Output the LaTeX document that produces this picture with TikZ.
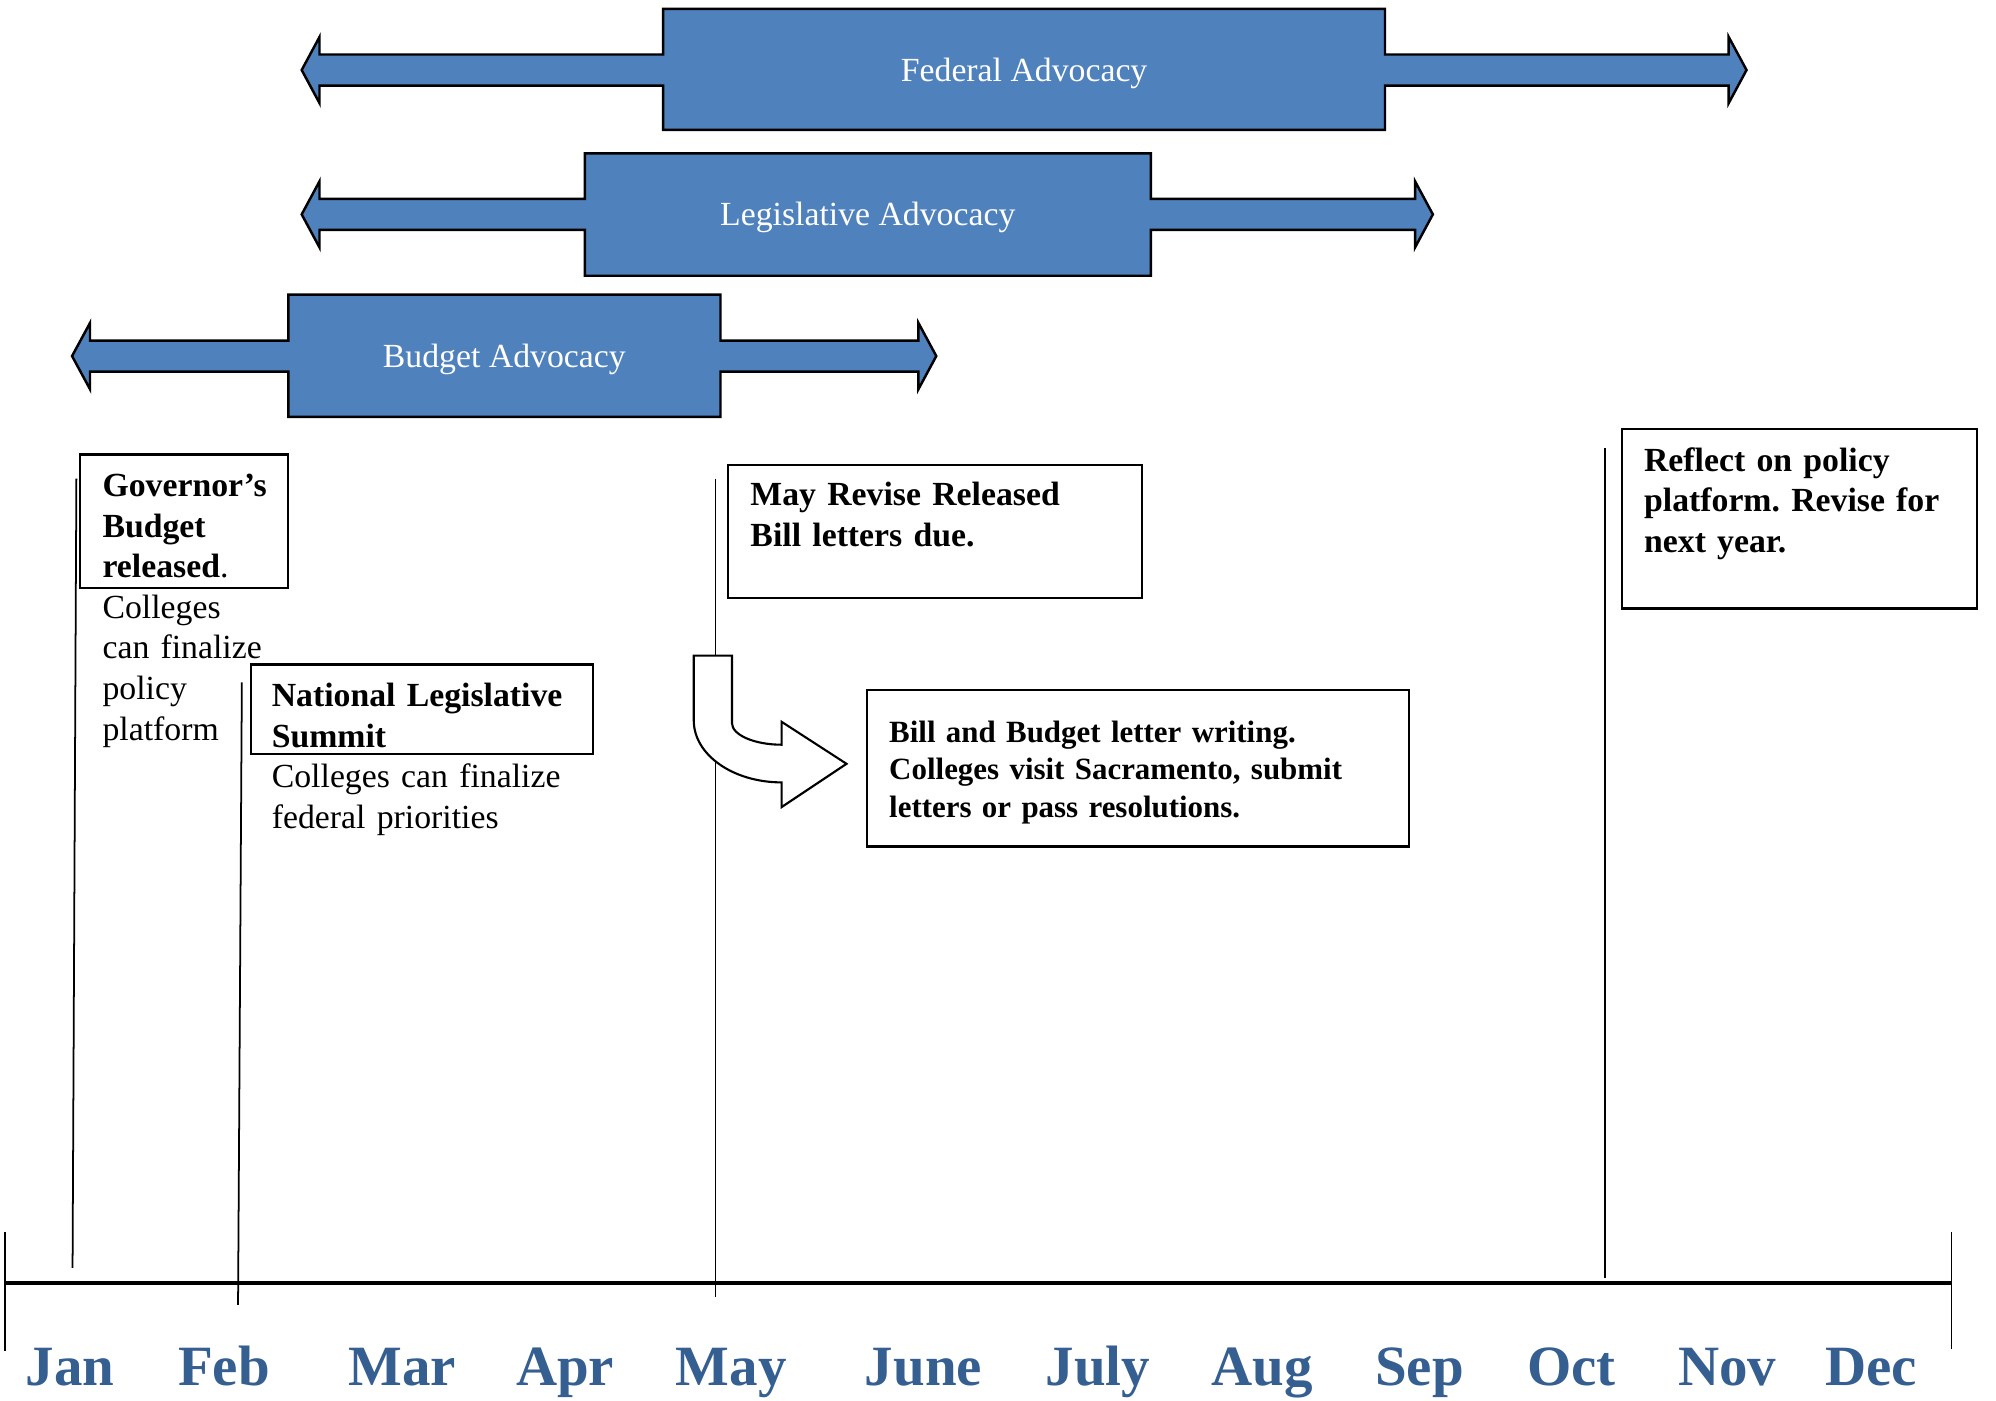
\documentclass[tikz,border=0pt]{standalone}
\usepackage{fontspec}
\setmainfont{Liberation Serif}
\usetikzlibrary{fit}
\definecolor{advblue}{HTML}{4F81BD}
\definecolor{monthblue}{HTML}{365F91}
\newcommand\advshape[9]{%
  \draw[advfill] (#1,#9) -- (#2,#9-26) -- (#2,#9-12.2) -- (#3,#9-12.2) -- (#3,#7) -- (#4,#7)
    -- (#4,#9-12.2) -- (#5,#9-12.2) -- (#5,#9-26) -- (#6,#9) -- (#5,#9+26) -- (#5,#9+12.2)
    -- (#4,#9+12.2) -- (#4,#8) -- (#3,#8) -- (#3,#9+12.2) -- (#2,#9+12.2) -- (#2,#9+26) -- cycle;}
\tikzset{
  advfill/.style={fill=advblue, draw=black, line width=0.7pt, line join=miter},
  advtext/.style={text=white, font=\fontsize{9.6}{11.6}\selectfont, inner sep=0pt},
  evbox/.style={draw=black, line width=0.6pt, inner sep=0pt},
  evtext/.style={anchor=base west, align=left, text width=#1, inner sep=0pt,
    font=\fontsize{9.6}{11.55}\selectfont\frenchspacing},
  smalltext/.style={anchor=base west, align=left, text width=#1, inner sep=0pt,
    font=\fontsize{8.8}{10.65}\selectfont\frenchspacing},
  monthlabel/.style={anchor=base, text=monthblue, inner sep=0pt,
    font=\fontsize{16.2}{19}\selectfont\bfseries},
  tline/.style={draw=black, line width=0.5pt},
  axisline/.style={draw=black, line width=1.1pt},
  bentarrow/.style={draw=black, fill=white, line width=0.6pt, line join=miter}
}
\begin{document}
\frenchspacing
\begin{tikzpicture}[x=0.01273cm, y=-0.01273cm]
\useasboundingbox (0,0) rectangle (1568,1100);

% advocacy arrows
\advshape{237}{251}{521}{1088}{1358}{1372}{7}{102}{55}
\node[advtext] (fed) at (804.5,58) {Federal Advocacy};
\advshape{237}{251}{459.5}{904}{1111.6}{1125.6}{120.5}{216.6}{168.4}
\node[advtext] (leg) at (681.7,171) {Legislative Advocacy};
\advshape{56.6}{70.7}{226.5}{566}{721.5}{735.5}{231.5}{327.4}{279.7}
\node[advtext] (bud) at (396.2,282.5) {Budget Advocacy};

% timeline axis
\coordinate (axL) at (4,1008);
\coordinate (axR) at (1533,1008);
\draw[axisline] (axL) -- (axR);
\draw[tline] (4,968) -- (4,1061);
\draw[tline] (1533,968) -- (1533,1060);

% event marker lines
\coordinate (janT) at (60,376);  \coordinate (janB) at (57,996);
\coordinate (febT) at (190,536); \coordinate (febB) at (187,1025);
\coordinate (mayT) at (562,376); \coordinate (mayB) at (562,1019);
\coordinate (octT) at (1261,352); \coordinate (octB) at (1261,1004);
\draw[tline] (janT) -- (janB);
\draw[tline] (febT) -- (febB);
\draw[tline] (mayT) -- (mayB);
\draw[tline] (octT) -- (octB);

% bent arrow
\draw[bentarrow] (545,515) -- (575,515) -- (575,568)
  .. controls (575,577.4) and (592.7,585) .. (614,585)
  -- (614,567) -- (665,600) -- (614,634) -- (614,614.6)
  .. controls (576,614.6) and (545,593) .. (545,566) -- cycle;

% event boxes
\node[evbox, fit={(63,357) (226,462)}] (govbox) {};
\node[evtext=180*0.01273cm] (govtext) at (80,390)
  {\textbf{Governor’s}\\\textbf{Budget}\\\textbf{released}.\\Colleges\\can finalize\\policy\\platform};

\node[evbox, fit={(197,522) (466,592)}] (nlsbox) {};
\node[evtext=280*0.01273cm] (nlstext) at (213,555)
  {\textbf{National Legislative}\\\textbf{Summit}\\Colleges can finalize\\federal priorities};

\node[evbox, fit={(572,365) (897,470)}] (maybox) {};
\node[evtext=300*0.01273cm] (maytext) at (589,397)
  {\textbf{May Revise Released}\\\textbf{Bill letters due.}};

\node[evbox, fit={(681,542) (1107,665)}] (billbox) {};
\node[smalltext=400*0.01273cm] (billtext) at (698,583)
  {\textbf{Bill and Budget letter writing.}\\\textbf{Colleges visit Sacramento, submit}\\\textbf{letters or pass resolutions.}};

\node[evbox, fit={(1274,337) (1553,478)}] (refbox) {};
\node[evtext=260*0.01273cm] (reftext) at (1291,370)
  {\textbf{Reflect on policy}\\\textbf{platform. Revise for}\\\textbf{next year.}};

% months
\node[monthlabel] (jan) at (55,1088) {Jan};
\node[monthlabel] (feb) at (176,1088) {Feb};
\node[monthlabel] (mar) at (316,1088) {Mar};
\node[monthlabel] (apr) at (444,1088) {Apr};
\node[monthlabel] (may) at (574.5,1088) {May};
\node[monthlabel] (jun) at (725.5,1088) {June};
\node[monthlabel] (jul) at (862.5,1088) {July};
\node[monthlabel] (aug) at (991.5,1088) {Aug};
\node[monthlabel] (sep) at (1115,1088) {Sep};
\node[monthlabel] (oct) at (1234.5,1088) {Oct};
\node[monthlabel] (nov) at (1357,1088) {Nov};
\node[monthlabel] (dec) at (1470,1088) {Dec};
\end{tikzpicture}
\end{document}
